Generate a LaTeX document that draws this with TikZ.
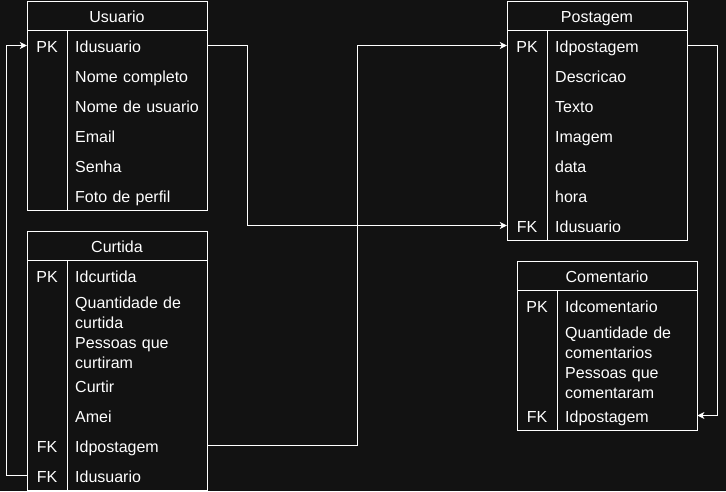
\documentclass[tikz,border=0pt]{standalone}
\usepackage{fontspec}
\setmainfont{Liberation Sans}
\usepackage{xcolor}
\usetikzlibrary{arrows.meta}

\definecolor{bgdark}{HTML}{121212}

\begin{document}
\begin{tikzpicture}[
    x=1pt, y=-1pt,
    every node/.style={text=white, font=\fontsize{16}{19.5}\selectfont, inner sep=0pt, text height=16pt, text depth=3pt},
    table/.style={draw=white, line width=1pt, minimum width=180pt, anchor=north west},
    head/.style={draw=white, line width=1pt, minimum width=180pt, minimum height=29pt},
    key/.style={minimum width=40pt, minimum height=30pt},
    field/.style={anchor=west, text width=124pt, inner xsep=8pt, minimum height=30pt, align=left},
    twoline/.style={minimum height=40pt, text depth=22.5pt},
    rule/.style={draw=white, line width=1pt},
    link/.style={draw=white, line width=1pt, -{Stealth[length=7pt, width=7pt, inset=2pt]}}
]
    \fill[bgdark] (0,0) rectangle (726,491);

    % Usuario
    \node[table, minimum height=209pt] (usuario) at (27,1) {};
    \node[head] (usuariohead) at (117,15.5) {Usuario};
    \draw[rule] (67,30) -- (67,210);
    \node[key] (upk) at (47,45.5) {PK};
    \node[field] (uidusuario) at (67,45.5) {Idusuario};
    \node[field] (unome) at (67,75.5) {Nome completo};
    \node[field] (uapelido) at (67,105.5) {Nome de usuario};
    \node[field] (uemail) at (67,135.5) {Email};
    \node[field] (usenha) at (67,165.5) {Senha};
    \node[field] (ufoto) at (67,195.5) {Foto de perfil};

    % Curtida
    \node[table, minimum height=259pt] (curtida) at (27,231) {};
    \node[head] (curtidahead) at (117,245.5) {Curtida};
    \draw[rule] (67,260) -- (67,490);
    \node[key] (cpk) at (47,275.5) {PK};
    \node[field] (cidcurtida) at (67,275.5) {Idcurtida};
    \node[field, twoline] (cquantidade) at (67,312) {Quantidade de\\curtida};
    \node[field, twoline] (cpessoas) at (67,352) {Pessoas que\\curtiram};
    \node[field] (ccurtir) at (67,385.5) {Curtir};
    \node[field] (camei) at (67,415.5) {Amei};
    \node[key] (cfkpostagem) at (47,445.5) {FK};
    \node[field] (cidpostagem) at (67,445.5) {Idpostagem};
    \node[key] (cfkusuario) at (47,475.5) {FK};
    \node[field] (cidusuario) at (67,475.5) {Idusuario};

    % Postagem
    \node[table, minimum height=239pt] (postagem) at (507,1) {};
    \node[head] (postagemhead) at (597,15.5) {Postagem};
    \draw[rule] (547,30) -- (547,240);
    \node[key] (ppk) at (527,45.5) {PK};
    \node[field] (pidpostagem) at (547,45.5) {Idpostagem};
    \node[field] (pdescricao) at (547,75.5) {Descricao};
    \node[field] (ptexto) at (547,105.5) {Texto};
    \node[field] (pimagem) at (547,135.5) {Imagem};
    \node[field] (pdata) at (547,165.5) {data};
    \node[field] (phora) at (547,195.5) {hora};
    \node[key] (pfkusuario) at (527,225.5) {FK};
    \node[field] (pidusuario) at (547,225.5) {Idusuario};

    % Comentario
    \node[table, minimum height=169pt] (comentario) at (517,261) {};
    \node[head] (comentariohead) at (607,275.5) {Comentario};
    \draw[rule] (557,290) -- (557,430);
    \node[key] (mpk) at (537,305.5) {PK};
    \node[field] (midcomentario) at (557,305.5) {Idcomentario};
    \node[field, twoline] (mquantidade) at (557,342) {Quantidade de\\comentarios};
    \node[field, twoline] (mpessoas) at (557,382) {Pessoas que\\comentaram};
    \node[key] (mfkpostagem) at (537,415.5) {FK};
    \node[field] (midpostagem) at (557,415.5) {Idpostagem};

    % Arrows
    \draw[link] (uidusuario.east) -- ++(40,0) |- (pfkusuario.west);
    \draw[link] (cidpostagem.east) -- ++(150,0) |- (ppk.west);
    \draw[link] (cfkusuario.west) -- ++(-20,0) |- (upk.west);
    \draw[link] (pidpostagem.east) -- ++(30,0) |- (midpostagem.east);
\end{tikzpicture}
\end{document}
